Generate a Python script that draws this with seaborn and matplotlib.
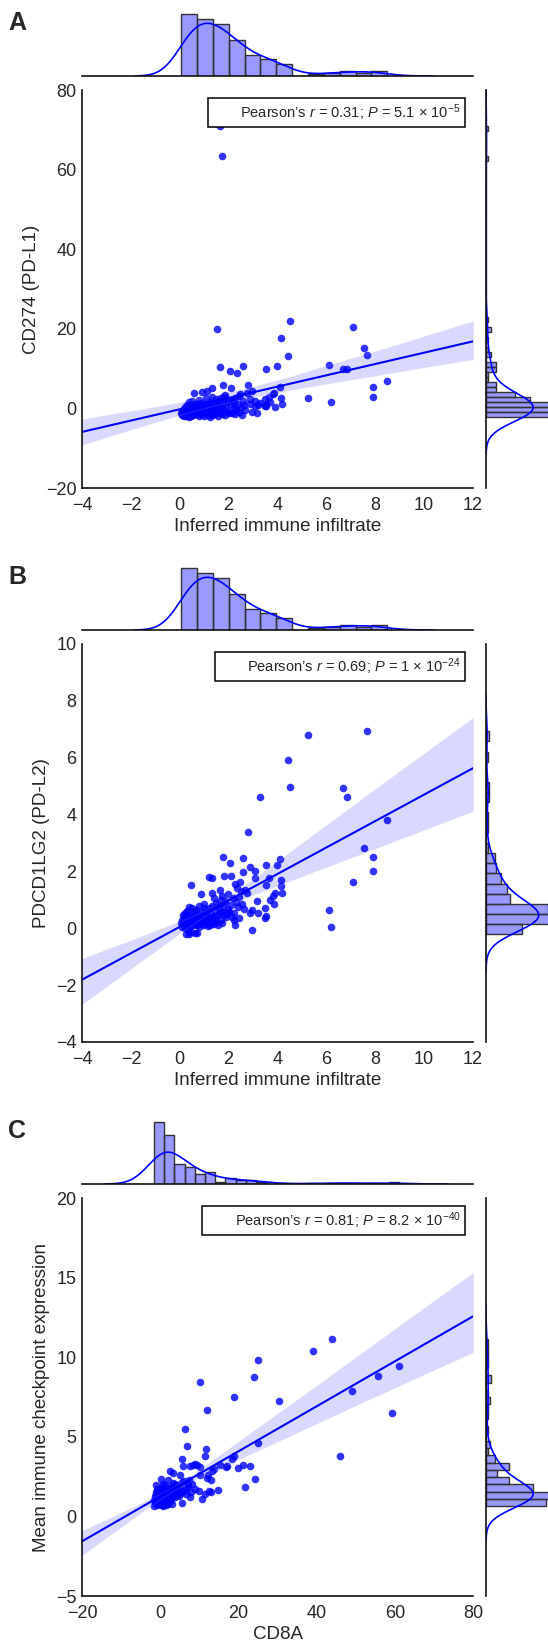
import matplotlib
matplotlib.use("Agg")
import matplotlib.pyplot as plt
from matplotlib.lines import Line2D
from matplotlib.collections import PathCollection
import seaborn as sns

# ---- panels A and B: same samples on x ----
infiltrate = [
    0.06, 0.08, 0.10, 0.12, 0.14, 0.16, 0.18, 0.20, 0.22, 0.24,
    0.25, 0.27, 0.29, 0.31, 0.33, 0.35, 0.36, 0.38, 0.39, 0.41,
    0.43, 0.45, 0.46, 0.48, 0.50, 0.52, 0.54, 0.55, 0.57, 0.59,
    0.61, 0.63, 0.65, 0.66, 0.68, 0.70,
    0.72, 0.74, 0.76, 0.78, 0.80, 0.82, 0.84, 0.86, 0.88, 0.90,
    0.92, 0.94, 0.96, 0.98, 1.00, 1.02, 1.04, 1.06, 1.08, 1.10,
    1.12, 1.14, 1.16, 1.18, 1.20, 1.22, 1.24, 1.26, 1.28, 1.30,
    1.31, 1.33, 1.34, 1.36, 1.38,
    1.40, 1.42, 1.44, 1.46, 1.48, 1.50, 1.53, 1.55, 1.57, 1.59,
    1.61, 1.64, 1.65, 1.67, 1.68, 1.70, 1.72, 1.74, 1.76, 1.78,
    1.80, 1.83, 1.84, 1.87, 1.90, 1.93, 1.96, 1.99, 2.02, 2.04,
    2.08, 2.11, 2.14, 2.16, 2.20, 2.23, 2.25, 2.27, 2.30, 2.34,
    2.38, 2.42, 2.44, 2.47, 2.50, 2.55, 2.58, 2.60, 2.62, 2.69,
    2.77, 2.80, 2.86, 2.88, 2.95, 2.96, 3.06, 3.07, 3.18, 3.22, 3.30,
    3.48, 3.49, 3.51, 3.53, 3.54, 3.65, 3.69, 3.83, 3.87, 3.91, 3.98,
    4.12, 4.14, 4.16, 4.20,
    4.42, 4.50, 5.25, 6.12, 6.17, 6.70, 6.83, 7.10, 7.55, 7.67, 7.90, 7.91, 8.49,
]
cd274 = [
    -1.2, -0.9, -1.6, -0.4, -1.1, -1.8, -0.7, -1.4, 0.3, -1.0,
    -2.0, -0.5, -1.3, 0.9, -1.7, -0.8, -2.2, -0.2, 1.6, -1.1,
    -1.5, 0.6, -0.6, -1.9, 1.8, -1.2, -0.3, -1.6, 3.9, -0.9,
    0.4, -1.4, -0.7, 1.2, -1.0, -0.1,
    -1.3, 0.8, -0.6, -1.8, 2.2, -1.0, 0.1, -1.5, 1.3, -0.4,
    4.1, -1.2, 0.5, -0.8, -1.9, 1.0, -0.2, -1.4, 2.6, -0.9,
    4.4, -1.6, 0.2, -0.5, -1.1, 1.6, -2.1, 0.7, -0.7, -1.3,
    2.9, 5.1, -1.7, 0.0, -0.9,
    1.1, -1.5, 0.4, -0.6, 2.3, -1.2, 20.0, 0.9, -1.8, -0.3,
    1.8, 10.5, 71.0, -1.0, 0.6, 2.6, 63.3, -1.4, 1.3, 5.9,
    -0.5, 3.0, 3.4, -1.6, 0.2, 1.5, -0.8, 2.0, -1.1, 9.5,
    5.1, 0.8, -1.2, 2.1, 0.1, 1.4, -1.4, 2.6, -0.4, 8.8,
    1.0, -1.0, 3.1, 3.5, 0.4, -1.6, 1.9, 10.7, 0.9, -0.3,
    3.9, 5.9, 1.2, 2.3, -0.9, 4.4, 0.6, 1.8, -1.1, 0.9, 1.4,
    2.3, 0.5, 10.0, 1.2, 0.5, 2.9, 1.7, 3.5, 3.9, 0.3, 10.6,
    5.5, 17.7, 2.6, 1.0,
    13.1, 22.0, 2.7, 10.9, 1.5, 9.8, 10.0, 20.4, 15.1, 13.3, 5.4, 2.9, 6.8,
]
pdcd1lg2 = [
    0.18, 0.30, 0.05, 0.45, 0.22, 0.10, 0.38, 0.02, 0.55, 0.15,
    -0.20, 0.28, 0.12, 0.62, -0.05, 0.33, -0.21, 0.48, 0.76, 0.20,
    0.08, 1.51, 0.40, -0.12, 0.70, 0.25, 0.36, 0.10, 0.58, 0.30,
    0.45, -0.18, 0.20, 0.65, 0.35, 0.12,
    -0.17, 0.52, 0.28, 0.05, 0.80, 0.40, 0.18, 0.33, 1.19, 0.58,
    0.25, 0.10, 0.45, 0.70, 0.84, 0.30, 0.15, 0.55, 0.38, 0.22,
    0.62, 0.08, 0.48, 1.80, 0.35, 0.12, 0.70, 0.28, 0.52, 0.18,
    0.78, 1.25, 1.77, 0.40, 0.25,
    1.07, 0.15, 0.60, 0.35, 0.90, 0.22, 0.75, 0.48, 0.10, 0.82,
    0.78, 0.55, 1.35, 0.30, 1.01, 0.62, 1.15, 0.20, 2.52, 0.72,
    0.45, 1.83, 0.95, 0.90, 0.38, 0.49, 0.68, 1.20, 0.58, 2.29,
    1.85, 0.82, 0.40, 1.07, 0.55, 0.29, 1.56, 0.13, 0.92, 1.40,
    0.75, 1.10, 0.37, 1.62, 1.30, 0.85, 1.99, 2.48, 0.69, 1.36,
    1.24, 3.38, 0.55, 2.16, 0.63, -0.06, 2.03, 1.77, 0.95, 0.55, 4.63,
    0.70, 0.35, 1.52, 2.22, 0.43, 1.77, 1.00, 1.13, 0.86, 1.24, 2.24,
    2.43, 1.70, 1.50, 1.24,
    5.93, 4.98, 6.80, 0.63, 0.05, 4.92, 4.62, 1.63, 2.83, 6.93, 2.52, 2.01, 3.81,
]

# ---- panel C ----
cd8a = [
    -1.6, -1.5, -1.4, -1.3, -1.2, -1.1, -1.0, -1.0, -0.9, -0.8,
    -0.8, -0.7, -0.6, -0.5, -0.5, -0.4, -0.3, -0.3, -0.2, -0.1,
    -0.1, 0.0, 0.0, 0.1, 0.1, 0.2, 0.2, 0.3, 0.3, 0.3,
    0.4, 0.4, 0.4, 0.5, 0.5, 0.5, 0.6, 0.6, 0.6, 0.7,
    0.7, 0.7, -0.9, -0.2, 0.0,
    0.8, 0.8, 0.9, 1.0, 1.0, 1.1, 1.1, 1.2, 1.2, 1.3,
    1.4, 1.4, 1.5, 1.5, 1.6, 1.7, 1.7, 1.8, 1.9, 2.0,
    2.0, 2.1, 2.1, 2.2, 2.3, 2.4, 2.5, 2.5, 2.6, 2.7,
    2.7, 2.8, 2.9, 3.0, 3.0, 3.1, 3.2, 3.2, 1.3, 1.9,
    2.4,
    3.4, 5.0, 5.5, 5.7, 5.85, 3.5, 3.6, 3.8, 3.9, 4.0, 4.2, 4.4, 4.6, 4.8, 5.1, 5.3, 5.6,
    6.4, 6.9, 6.6, 7.0, 7.6, 7.7, 8.3, 6.0, 6.2, 6.5, 6.8, 7.2, 7.4, 7.9, 8.1,
    9.0, 9.3, 10.1, 10.1, 10.3, 10.6, 8.8, 9.8,
    11.4, 11.5, 11.7, 11.9, 11.9, 12.9, 13.0, 12.2, 12.6, 13.3,
    13.7, 14.9, 15.3, 17.2, 18.3, 16.8, 18.9, 18.95, 19.9, 21.3, 21.8, 22.9, 24.0, 24.2, 24.9, 25.0,
    30.4, 39.0, 43.9, 46.0, 49.1, 55.7, 59.3, 61.0,
]
checkpoint_mean = [
    1.05, 0.65, 1.30, 0.85, 1.20, 1.55, 1.95, 0.95, 1.15, 0.70,
    1.40, 1.10, 1.25, 0.90, 1.60, 1.05, 1.35, 0.75, 1.15, 1.45,
    0.95, 1.20, 1.70, 1.00, 1.30, 0.80, 1.10, 2.32, 1.40, 0.95,
    1.25, 1.05, 1.85, 1.15, 0.70, 1.35, 1.00, 1.50, 1.20, 0.90,
    1.30, 2.05, 1.75, 1.30, 1.10,
    1.20, 0.65, 1.45, 1.10, 1.65, 0.85, 1.30, 1.05, 1.95, 1.40,
    0.70, 1.20, 1.55, 1.00, 1.30, 1.80, 0.90, 1.15, 1.45, 2.26,
    1.25, 0.80, 1.60, 1.05, 1.35, 1.75, 2.87, 1.20, 0.95, 1.50,
    1.85, 1.10, 1.40, 1.65, 0.75, 1.25, 2.10, 1.55, 1.15, 1.00,
    1.30,
    2.72, 2.57, 0.84, 3.58, 3.16, 1.45, 1.80, 1.20, 2.05, 1.60, 1.35, 1.95, 1.70, 1.30, 1.85, 1.50, 2.15,
    5.48, 4.44, 1.74, 2.01, 1.19, 3.16, 3.24, 1.60, 2.25, 1.40, 2.10, 1.85, 2.30, 1.55, 2.05,
    1.74, 3.24, 3.10, 8.47, 2.57, 1.11, 3.28, 1.60,
    3.77, 1.40, 4.21, 6.69, 2.43, 1.53, 2.30, 2.60, 1.60, 2.85,
    2.99, 1.63, 3.24, 3.14, 3.62, 3.10, 7.47, 3.77, 3.03, 3.24, 1.86, 3.18, 8.77, 2.36, 4.58, 9.85,
    7.24, 10.38, 11.13, 3.77, 7.87, 8.79, 6.51, 9.46,
]

sns.set_style("white")
plt.rcParams["font.family"] = ["Liberation Sans", "DejaVu Sans"]
plt.rcParams["mathtext.fontset"] = "custom"
plt.rcParams["mathtext.rm"] = "Liberation Sans"
plt.rcParams["mathtext.it"] = "Liberation Sans:italic"
plt.rcParams["xtick.direction"] = "in"
plt.rcParams["ytick.direction"] = "in"
plt.rcParams["axes.edgecolor"] = "#111111"
plt.rcParams["axes.linewidth"] = 1.2

W, H = 548, 1644
fig = plt.figure(figsize=(W / 100, H / 100), dpi=100)


def box(l, t, r, b):
    return [l / W, 1 - b / H, (r - l) / W, (b - t) / H]


def panel(x, y, top, xlim, ylim, xticks, yticks, xbins, ybins,
          xlabel, ylabel, note, letter, right_frac):
    main = fig.add_axes(box(82, top + 77, 473, top + 77 + 398))
    main.set_xlim(xlim)
    main.set_ylim(ylim)
    sns.regplot(x=x, y=y, ax=main, color="b", truncate=False, seed=0,
                scatter_kws={"s": 30, "alpha": 0.8, "linewidths": 0},
                line_kws={"lw": 1.5})
    for coll in main.collections:
        if not isinstance(coll, PathCollection):
            coll.set_edgecolor("#c8c8c8")
            coll.set_linewidth(1.0)
    main.set_xlim(xlim)
    main.set_ylim(ylim)
    main.set_xticks(xticks)
    main.set_yticks(yticks)
    main.tick_params(labelsize=13, length=4, width=1, color="#111111")
    main.tick_params(axis="x", pad=6.5)
    main.tick_params(axis="y", pad=4)
    main.set_xlabel(xlabel, fontsize=13.5, labelpad=3)
    main.set_ylabel(ylabel, fontsize=13.5)
    sns.despine(ax=main)
    leg = main.legend([Line2D([], [], linestyle="none")], [note],
                      loc="upper right", frameon=True, fancybox=False,
                      framealpha=1, edgecolor="black", handlelength=1.3,
                      handletextpad=0.6, fontsize=10.5, borderpad=0.3,
                      borderaxespad=0.55)
    leg.get_frame().set_linewidth(1.1)

    # top marginal
    axt = fig.add_axes(box(82, top, 473, top + 63))
    sns.histplot(x=x, bins=xbins, stat="density", color="b", alpha=0.4,
                 edgecolor="#333333", linewidth=1, ax=axt)
    sns.kdeplot(x=x, color="b", lw=1.2, ax=axt)
    axt.set_xlim(xlim)
    axt.set_ylim(0, max(p.get_height() for p in axt.patches) * 1.01)
    axt.set_xticks(xticks)
    axt.set_yticks([])
    axt.tick_params(axis="x", labelbottom=False, length=4, width=1, color="#111111")
    axt.set_xlabel("")
    axt.set_ylabel("")
    sns.despine(ax=axt, left=True)

    # right marginal
    axr = fig.add_axes(box(486, top + 77, 548, top + 77 + 398))
    sns.histplot(y=y, bins=ybins, stat="density", color="b", alpha=0.4,
                 edgecolor="#333333", linewidth=1, ax=axr)
    sns.kdeplot(y=y, color="b", lw=1.2, ax=axr)
    axr.set_ylim(ylim)
    peak = axr.lines[-1].get_xdata().max()
    axr.set_xlim(0, peak / right_frac)
    axr.set_yticks(yticks)
    axr.set_xticks([])
    axr.tick_params(axis="y", labelleft=False, length=4, width=1, color="#111111")
    axr.set_xlabel("")
    axr.set_ylabel("")
    sns.despine(ax=axr, bottom=True)

    fig.text(8 / W, 1 - (top + 17) / H, letter, fontsize=18,
             fontweight="bold", va="baseline")


panel(infiltrate, cd274, 13, (-4, 12), (-20, 80), range(-4, 13, 2),
      range(-20, 81, 20), 13, 58, "Inferred immune infiltrate",
      "CD274 (PD-L1)",
      r"Pearson’s $r$ = 0.31; $P$ = 5.1 × 10$^{-5}$", "A", 0.76)
panel(infiltrate, pdcd1lg2, 567, (-4, 12), (-4, 10), range(-4, 13, 2),
      range(-4, 11, 2), 13, 20, "Inferred immune infiltrate",
      "PDCD1LG2 (PD-L2)",
      r"Pearson’s $r$ = 0.69; $P$ = 1 × 10$^{-24}$", "B", 0.85)
panel(cd8a, checkpoint_mean, 1121, (-20, 80), (-5, 20), range(-20, 81, 20),
      range(-5, 21, 5), 24, 23, "CD8A",
      "Mean immune checkpoint expression",
      r"Pearson’s $r$ = 0.81; $P$ = 8.2 × 10$^{-40}$", "C", 0.76)

fig.savefig("out.png", dpi=100)
